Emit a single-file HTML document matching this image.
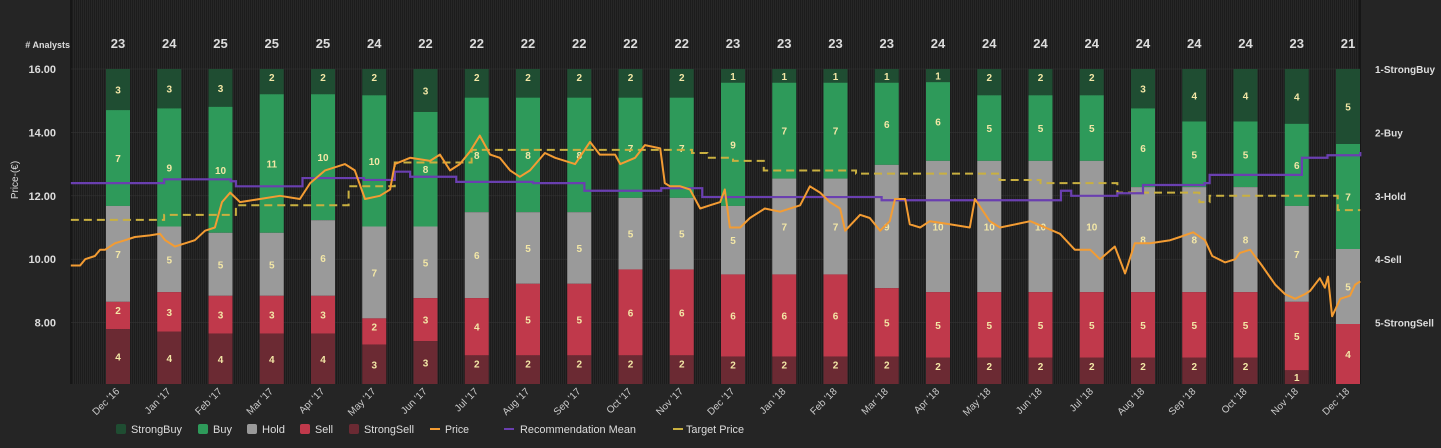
<!DOCTYPE html>
<html><head><meta charset="utf-8">
<style>
body{margin:0;background:#252525;width:1441px;height:443px;overflow:hidden;font-family:"Liberation Sans",sans-serif}
svg text{font-family:"Liberation Sans",sans-serif}
</style></head>
<body>
<svg id="chart" width="1441" height="443" xmlns="http://www.w3.org/2000/svg">
<defs>
<pattern id="stripes" width="2" height="10" patternUnits="userSpaceOnUse">
<rect width="1" height="10" fill="#1c1c1c"/><rect x="1" width="1" height="10" fill="#272727"/>
</pattern>
</defs>
<rect x="71" y="0" width="1289" height="384" fill="url(#stripes)"/>
<line x1="71" y1="0" x2="71" y2="384" stroke="#111" stroke-width="1.5"/>
<line x1="1360" y1="0" x2="1360" y2="384" stroke="#111" stroke-width="1.5"/>
<g id="grid"></g>
<g id="bars"></g>
<g id="lines"></g>
<g id="axes"></g>
<text x="70" y="48" text-anchor="end" font-size="9" font-weight="bold" fill="#ddd"># Analysts</text>
<text transform="translate(18,180) rotate(-90)" text-anchor="middle" font-size="10" fill="#ddd">Price-(€)</text>
<g id="legend" font-size="11" fill="#ddd">
<g><rect x="116" y="424" width="10" height="10" rx="2" fill="#1f4d32"/><text x="131" y="433" textLength="51" lengthAdjust="spacingAndGlyphs">StrongBuy</text></g>
<g><rect x="198" y="424" width="10" height="10" rx="2" fill="#2e9a5a"/><text x="213" y="433" textLength="19" lengthAdjust="spacingAndGlyphs">Buy</text></g>
<g><rect x="247" y="424" width="10" height="10" rx="2" fill="#9a9a9a"/><text x="262" y="433" textLength="23" lengthAdjust="spacingAndGlyphs">Hold</text></g>
<g><rect x="300" y="424" width="10" height="10" rx="2" fill="#c0394b"/><text x="315" y="433" textLength="18" lengthAdjust="spacingAndGlyphs">Sell</text></g>
<g><rect x="349" y="424" width="10" height="10" rx="2" fill="#6b2a33"/><text x="364" y="433" textLength="50" lengthAdjust="spacingAndGlyphs">StrongSell</text></g>
<g><line x1="430" y1="429" x2="440" y2="429" stroke="#f39c33" stroke-width="2"/><text x="445" y="433" textLength="24" lengthAdjust="spacingAndGlyphs">Price</text></g>
<g><line x1="504" y1="429" x2="514" y2="429" stroke="#6a3fb0" stroke-width="2"/><text x="520" y="433" textLength="116" lengthAdjust="spacingAndGlyphs">Recommendation Mean</text></g>
<g><line x1="673" y1="429" x2="683" y2="429" stroke="#c9b040" stroke-width="2"/><text x="686" y="433" textLength="58" lengthAdjust="spacingAndGlyphs">Target Price</text></g>
</g>
</svg>
<script>
const months=["Dec '16","Jan '17","Feb '17","Mar '17","Apr '17","May '17","Jun '17","Jul '17","Aug '17","Sep '17","Oct '17","Nov '17","Dec '17","Jan '18","Feb '18","Mar '18","Apr '18","May '18","Jun '18","Jul '18","Aug '18","Sep '18","Oct '18","Nov '18","Dec '18"];
const strongBuy=[3,3,3,2,2,2,3,2,2,2,2,2,1,1,1,1,1,2,2,2,3,4,4,4,5];
const buy=[7,9,10,11,10,10,8,8,8,8,7,7,9,7,7,6,6,5,5,5,6,5,5,6,7];
const hold=[7,5,5,5,6,7,5,6,5,5,5,5,5,7,7,9,10,10,10,10,8,8,8,7,5];
const sell=[2,3,3,3,3,2,3,4,5,5,6,6,6,6,6,5,5,5,5,5,5,5,5,5,4];
const strongSell=[4,4,4,4,4,3,3,2,2,2,2,2,2,2,2,2,2,2,2,2,2,2,2,1,0];
const priceTicks=[8,10,12,14,16];
const recLabels=["1-StrongBuy","2-Buy","3-Hold","4-Sell","5-StrongSell"];
const priceT=[-0.92,-0.74,-0.64,-0.45,-0.35,-0.25,-0.06,0.14,0.33,0.62,0.82,0.92,1.11,1.31,1.50,1.70,1.89,2.03,2.19,2.38,2.77,3.16,3.55,3.75,4.04,4.43,4.62,4.82,5.11,5.31,5.40,5.70,6.09,6.28,6.48,6.67,6.87,7.06,7.26,7.45,7.65,7.84,8.04,8.33,8.53,8.92,9.21,9.40,9.70,9.80,10.09,10.28,10.58,10.67,10.77,10.97,11.16,11.36,11.55,11.75,11.84,11.94,12.14,12.33,12.62,12.92,13.31,13.50,13.70,13.89,14.09,14.19,14.48,14.67,14.87,15.06,15.16,15.36,15.45,15.65,15.84,16.23,16.62,16.72,17.01,17.21,17.80,18.38,18.67,18.97,19.16,19.45,19.65,19.84,20.14,20.53,20.72,20.98,21.21,21.35,21.60,21.80,21.89,22.09,22.32,22.58,22.77,22.97,23.16,23.26,23.45,23.55,23.61,23.69,23.85,24.04,24.14,24.24];
const priceV=[9.8,9.8,10.0,10.1,10.3,10.3,10.5,10.6,10.7,10.75,10.8,10.6,10.4,10.5,10.6,10.9,11.0,11.8,12.1,11.8,11.9,12.0,11.9,12.4,12.8,13.0,12.8,11.9,12.0,12.2,13.0,13.2,13.1,13.3,12.8,13.0,13.4,13.9,13.3,13.2,12.8,12.6,12.8,13.35,13.2,13.0,13.7,13.3,13.3,13.0,13.2,13.6,13.5,12.4,12.3,12.3,12.2,11.6,11.7,11.8,12.2,11.0,11.0,11.3,11.6,11.5,11.7,12.3,12.1,11.8,11.6,10.9,11.4,11.3,10.9,11.2,11.9,11.9,11.1,11.0,11.2,11.1,11.0,11.9,11.2,11.0,11.2,10.8,10.3,10.3,10.0,10.4,9.55,10.5,10.5,10.6,10.7,10.85,10.6,10.1,9.9,10.0,10.2,10.3,9.8,9.2,8.9,8.75,8.9,9.0,9.4,9.1,9.45,8.2,8.75,8.85,9.2,9.3];
const recT=[-0.92,0.7,0.9,2.2,2.3,3.5,3.6,4.8,5.4,5.7,6.6,8.1,9.1,10.6,11.4,14.9,18.3,18.4,18.6,19.5,20.0,21.2,21.3,22.9,23.1,23.6,24.24];
const recV=[2.80,2.80,2.74,2.77,2.85,2.85,2.72,2.75,2.62,2.70,2.78,2.80,2.92,2.88,3.02,3.07,3.07,2.92,3.0,2.96,2.83,2.80,2.67,2.67,2.40,2.36,2.31];
const targetT=[-0.92,0.6,0.9,2.2,2.3,3.5,4.5,5.4,6.9,10.6,11.2,11.5,12.0,12.6,14.4,17.2,18.0,19.5,21.1,21.3,23.6,23.8,24.24];
const targetV=[11.24,11.24,11.4,11.4,11.7,11.7,12.3,13.05,13.45,13.45,13.35,13.2,13.1,12.8,12.7,12.5,12.4,12.1,11.8,12.0,12.0,11.55,11.55];

const NS="http://www.w3.org/2000/svg";
const X0=118, DX=51.25, YTOP=69, YBOT=384, PPE=31.7;
const xT=t=>X0+t*DX;
const yP=p=>YTOP+(16-p)*PPE;
const yR=r=>YTOP+(r-1)*2*PPE;
function mk(tag,attrs,parent){const e=document.createElementNS(NS,tag);for(const k in attrs)e.setAttribute(k,attrs[k]);parent.appendChild(e);return e;}
const grid=document.getElementById('grid'),bars=document.getElementById('bars'),lines=document.getElementById('lines'),axes=document.getElementById('axes');

priceTicks.forEach(p=>{
  const l=mk('line',{x1:71,x2:1360,y1:yP(p),y2:yP(p),stroke:'#333','stroke-width':0.6},grid);
  
  
  const t=mk('text',{x:56,y:yP(p)+4,'text-anchor':'end','font-size':11,'font-weight':'bold',fill:'#ddd'},axes);
  t.textContent=p.toFixed(2);
  
  
});
recLabels.forEach((s,i)=>{
  const t=mk('text',{x:1375,y:yR(i+1)+4,'font-size':10,'font-weight':'bold',fill:'#ddd'},axes);
  t.textContent=s;
  
  
});
const series=[[strongBuy,'#1f4d32'],[buy,'#2e9a5a'],[hold,'#9a9a9a'],[sell,'#c0394b'],[strongSell,'#6b2a33']];
months.forEach((m,i)=>{
  const cx=xT(i);
  const total=series.reduce((s,a)=>s+a[0][i],0);
  let y=YTOP;
  series.forEach(([arr,col])=>{
    const v=arr[i]; if(!v)return;
    const h=v/total*(YBOT-YTOP);
    const r=mk('rect',{x:cx-12,y:y,width:24,height:h,fill:col},bars);
    
    
    const lbl=mk('text',{x:cx,y:h<30?y+Math.min(h/2+4,12):y+h/2+4,'text-anchor':'middle','font-size':10,'font-weight':'bold',fill:'#f3e7a6'},bars);
    lbl.textContent=v;
    
    
    y+=h;
  });
  const c=mk('text',{x:cx,y:48,'text-anchor':'middle','font-size':13,'font-weight':'bold',fill:'#ddd'},axes);
  c.textContent=total;
  
  
  const xl=mk('text',{transform:`translate(${cx+2},${392}) rotate(-45)`,'text-anchor':'end','font-size':10,fill:'#ccc'},axes);
  xl.textContent=m;
  
  
});
function stepPath(ts,vs,yf){let d='';ts.forEach((t,i)=>{const x=xT(t),y=yf(vs[i]);if(i===0)d+=`M${x},${y}`;else d+=`H${x}V${y}`;});return d;}
const tp=mk('path',{d:stepPath(targetT,targetV,yP),fill:'none',stroke:'#c9b040','stroke-width':2,'stroke-dasharray':'8,5'},lines);


const rp=mk('path',{d:stepPath(recT,recV,yR),fill:'none',stroke:'#6a3fb0','stroke-width':2.2},lines);


const pd=priceT.map((t,i)=>(i?'L':'M')+xT(t).toFixed(1)+','+yP(priceV[i]).toFixed(1)).join('');
const pp=mk('path',{d:pd,fill:'none',stroke:'#f39c33','stroke-width':2,'stroke-linejoin':'round'},lines);


</script>
</body></html>
